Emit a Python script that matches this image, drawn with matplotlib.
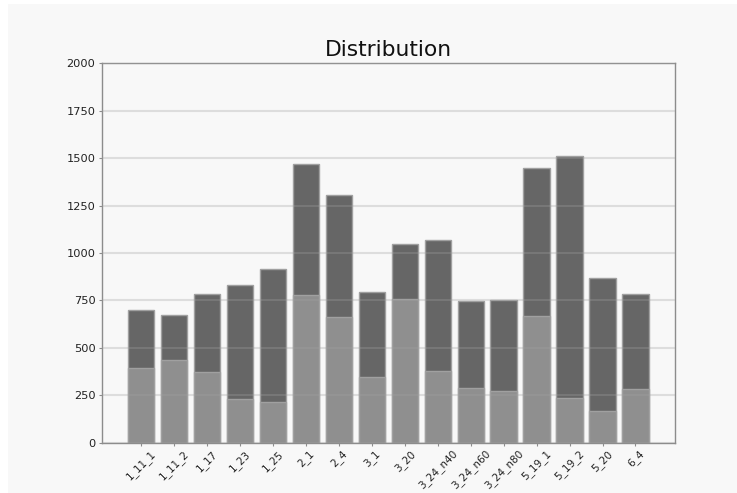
import numpy as np
import matplotlib
matplotlib.use("Agg")
import matplotlib.pyplot as plt
from matplotlib.patches import Rectangle

# samples per run: total count and the lower share
runs = ["1_11_1", "1_11_2", "1_17", "1_23", "1_25", "2_1", "2_4", "3_1",
        "3_20", "3_24_n40", "3_24_n60", "3_24_n80", "5_19_1", "5_19_2",
        "5_20", "6_4"]
total = [700, 672, 784, 833, 915, 1471, 1307, 796,
         1046, 1067, 745, 752, 1450, 1513, 870, 782]
lower = [396, 436, 374, 229, 213, 777, 661, 348,
         759, 378, 287, 274, 668, 234, 165, 281]

BG = "#f8f8f8"

fig = plt.figure(figsize=(7.37, 4.93), dpi=100, facecolor=BG)
# thin white margins on the left and top edges
fig.patches.append(Rectangle((0, 0), 8 / 737, 1, transform=fig.transFigure,
                             facecolor="white", edgecolor="none", zorder=0))
fig.patches.append(Rectangle((0, 1 - 4 / 493), 1, 4 / 493,
                             transform=fig.transFigure,
                             facecolor="white", edgecolor="none", zorder=0))

ax = fig.add_axes([101.7 / 737, 1 - 442.7 / 493, 573.3 / 737, 379.4 / 493])
ax.set_facecolor(BG)

x = np.arange(len(runs))
ax.bar(x, total, width=0.8, color="#666666", edgecolor="#a0a0a0",
       linewidth=1.0, zorder=1)
ax.bar(x, lower, width=0.8, color="#8f8f8f", edgecolor="#a0a0a0",
       linewidth=1.0, zorder=2)

# grid sits on top of the bars, faint
ax.set_axisbelow(False)
ax.yaxis.grid(True, color="#a0a0a0", alpha=0.3, linewidth=1.5)
for gl in ax.get_ygridlines():
    gl.set_zorder(3)

ax.set_xlim(-1.2, 16.2)
ax.set_ylim(0, 2000)
ax.set_yticks(np.arange(0, 2001, 250))
ax.set_xticks(x)
ax.set_xticklabels(runs, rotation=45, ha="center")

for s in ax.spines.values():
    s.set_color("#8c8c8c")
    s.set_linewidth(1.0)
ax.tick_params(colors="#8c8c8c", labelcolor="#222222", length=2.5, pad=2)
ax.tick_params(axis="y", labelsize=8.2)
ax.tick_params(axis="x", labelsize=7.5, pad=1.5)

ax.set_title("Distribution", fontsize=15.7, color="#111111", pad=5)

fig.savefig("out.png", dpi=100, facecolor=fig.get_facecolor())
